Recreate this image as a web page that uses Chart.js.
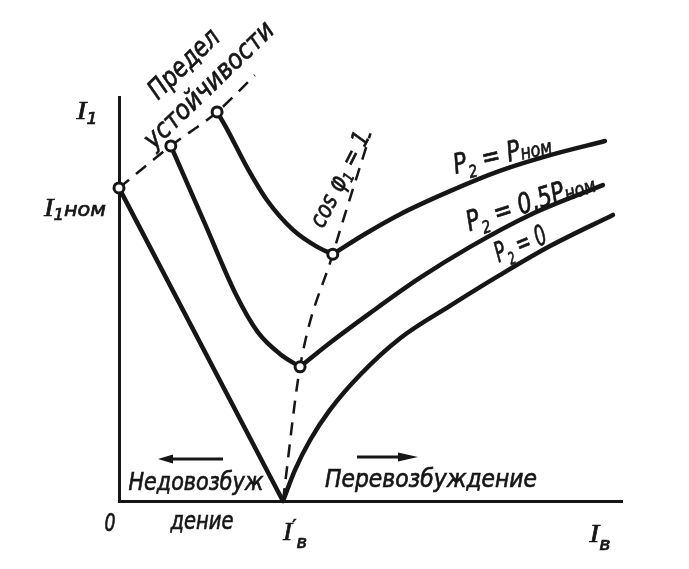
<!DOCTYPE html>
<html>
<head>
<meta charset="utf-8">
<script src="https://cdn.jsdelivr.net/npm/chart.js@4.4.0/dist/chart.umd.min.js"></script>
<style>
  html, body { margin: 0; padding: 0; background: #fff; }
  canvas { display: block; }
</style>
</head>
<body>
<canvas id="chart" width="689" height="569"></canvas>
<script>
// U-curves of a synchronous motor: stator current I1 vs field current Iв
// (arbitrary units, 0..10 on both axes)
var xMax = 10, yMax = 10;

// P2 = 0
var p0LeftX = [0, 3.26];
var p0LeftY = [7.75, 0];
var p0RightX = [3.26, 3.50, 3.80, 4.19, 4.79, 5.59, 6.58, 7.57, 8.57, 9.82];
var p0RightY = [0, 0.77, 1.51, 2.25, 3.12, 4.03, 4.83, 5.59, 6.31, 7.08];

// P2 = 0,5 Pном
var pHalfLeftX = [1.03, 1.71, 2.31, 2.76, 3.20, 3.60];
var pHalfLeftY = [8.79, 6.86, 5.15, 4.18, 3.64, 3.32];
var pHalfRightX = [3.60, 4.19, 4.99, 5.98, 6.98, 8.17, 9.62];
var pHalfRightY = [3.32, 3.91, 4.65, 5.52, 6.29, 7.08, 7.82];

// P2 = Pном
var pNomLeftX = [1.95, 2.15, 2.54, 2.94, 3.46, 3.94, 4.25];
var pNomLeftY = [9.63, 9.20, 8.27, 7.45, 6.71, 6.29, 6.11];
var pNomRightX = [4.25, 4.89, 5.59, 6.58, 7.57, 8.57, 9.66];
var pNomRightY = [6.11, 6.61, 7.10, 7.67, 8.17, 8.56, 8.91];

// stability limit (dashed)
var stabX = [0, 1.03, 1.95, 2.70];
var stabY = [7.75, 8.79, 9.63, 10.54];

// cos φ1 = 1 (dashed)
var cosX = [3.26, 3.60, 4.25, 5.00];
var cosY = [0, 3.32, 6.11, 9.10];

// open circles
var markX = [0, 1.03, 1.95, 3.60, 4.25];
var markY = [7.75, 8.79, 9.63, 3.32, 6.11];

var ink = '#161616';

function pts(xs, ys) {
  return xs.map(function (x, i) { return { x: x, y: ys[i] }; });
}

function curve(xs, ys) {
  return {
    data: pts(xs, ys),
    showLine: true,
    borderColor: ink,
    borderWidth: 4.5,
    pointRadius: 0,
    cubicInterpolationMode: 'monotone',
    borderCapStyle: 'round',
    clip: false
  };
}

function dashed(xs, ys) {
  var d = curve(xs, ys);
  d.borderWidth = 2.5;
  d.borderDash = [13, 9];
  d.borderCapStyle = 'butt';
  return d;
}

var serif = '"Liberation Serif"';
var sans = '"DejaVu Sans"';

// text labels: centre, angle (deg), target width, runs
var labels = [
  { x: 87, y: 110, a: 0, w: 21, runs: [['I', 'italic 26px ' + serif], ['1', 'italic 15px ' + sans, 5]] },
  { x: 75, y: 207, a: 0, w: 62, runs: [['I', 'italic 26px ' + serif], ['1', 'italic 15px ' + sans, 4], ['ном', 'italic 19px ' + sans, 0]] },
  { x: 110, y: 522, a: 0, w: 11, runs: [['0', 'italic 24px ' + sans]] },
  { x: 196, y: 481, a: 0, w: 135, runs: [['Недовозбуж', 'italic 25px ' + sans]] },
  { x: 202, y: 520, a: 0, w: 63, runs: [['дение', 'italic 25px ' + sans]] },
  { x: 431, y: 478, a: 0, w: 212, runs: [['Перевозбуждение', 'italic 25px ' + sans]] },
  { x: 295, y: 531, a: 0, w: 24, runs: [['I', 'italic 26px ' + serif], ['\u2032', '18px ' + sans, -8], ['в', 'italic 17px ' + sans, 8]] },
  { x: 600, y: 533, a: 0, w: 21, runs: [['I', 'italic 26px ' + serif], ['в', 'italic 17px ' + sans, 8]] },
  { x: 183, y: 63, a: -44, w: 88, runs: [['Предел', 'italic 27px ' + sans]] },
  { x: 208, y: 84, a: -44, w: 170, runs: [['устойчивости', 'italic 27px ' + sans]] },
  { x: 339, y: 179, a: -63, w: 104, runs: [['cos ', 'italic 24px ' + sans], ['φ', 'italic 26px ' + sans], ['1', 'italic 15px ' + sans, 4], [' = 1', 'italic 24px ' + sans]] },
  { x: 502, y: 153, a: -13, w: 100, runs: [['P', 'italic 28px ' + sans], ['2', 'italic 17px ' + sans, 7], [' = P', 'italic 28px ' + sans], ['ном', 'italic 20px ' + sans, 1]] },
  { x: 530, y: 201, a: -18, w: 134, runs: [['P', 'italic 28px ' + sans], ['2', 'italic 17px ' + sans, 7], [' = 0,5P', 'italic 28px ' + sans], ['ном', 'italic 20px ' + sans, 1]] },
  { x: 520, y: 243, a: -22, w: 54, runs: [['P', 'italic 28px ' + sans], ['2', 'italic 17px ' + sans, 7], [' = 0', 'italic 28px ' + sans]] }
];

function drawLabel(ctx, l) {
  ctx.save();
  ctx.translate(l.x, l.y);
  ctx.rotate(l.a * Math.PI / 180);
  var total = 0;
  l.runs.forEach(function (r) { ctx.font = r[1]; total += ctx.measureText(r[0]).width; });
  ctx.scale(l.w / total, 1);
  ctx.fillStyle = ink;
  ctx.strokeStyle = ink;
  ctx.lineWidth = 0.7;
  ctx.textBaseline = 'alphabetic';
  var size = parseFloat(l.runs[0][1].match(/(\d+)px/)[1]);
  var cx = -total / 2;
  l.runs.forEach(function (r) {
    ctx.font = r[1];
    var y = size * 0.36 + (r[2] || 0);
    ctx.fillText(r[0], cx, y);
    ctx.strokeText(r[0], cx, y);
    cx += ctx.measureText(r[0]).width;
  });
  ctx.restore();
}

function arrow(ctx, x1, x2, y, headLen) {
  var dir = x2 > x1 ? 1 : -1;
  ctx.save();
  ctx.strokeStyle = ink;
  ctx.fillStyle = ink;
  ctx.lineWidth = 3;
  ctx.beginPath();
  ctx.moveTo(x1, y);
  ctx.lineTo(x2 - dir * headLen * 0.8, y);
  ctx.stroke();
  ctx.beginPath();
  ctx.moveTo(x2, y);
  ctx.lineTo(x2 - dir * headLen, y - 4.5);
  ctx.lineTo(x2 - dir * headLen, y + 4.5);
  ctx.closePath();
  ctx.fill();
  ctx.restore();
}

var textPlugin = {
  id: 'texts',
  afterDraw: function (chart) {
    var ctx = chart.ctx;
    labels.forEach(function (l) { drawLabel(ctx, l); });
    arrow(ctx, 223, 158, 459, 15);
    arrow(ctx, 357, 418, 457, 20);
  }
};

new Chart(document.getElementById('chart').getContext('2d'), {
  type: 'scatter',
  data: {
    datasets: [
      {
        data: pts(markX, markY),
        pointRadius: 5,
        pointBorderWidth: 3,
        pointBackgroundColor: '#fff',
        pointBorderColor: ink,
        showLine: false,
        clip: false
      },
      curve(p0LeftX, p0LeftY),
      curve(p0RightX, p0RightY),
      curve(pHalfLeftX, pHalfLeftY),
      curve(pHalfRightX, pHalfRightY),
      curve(pNomLeftX, pNomLeftY),
      curve(pNomRightX, pNomRightY),
      dashed(stabX, stabY),
      dashed(cosX, cosY)
    ]
  },
  options: {
    responsive: false,
    animation: false,
    layout: { padding: { left: 119, top: 97, right: 67, bottom: 68 } },
    plugins: { legend: { display: false }, tooltip: { enabled: false } },
    scales: {
      x: {
        type: 'linear', min: 0, max: xMax,
        grid: { display: false, drawTicks: false },
        ticks: { display: false },
        border: { color: ink, width: 3 },
        afterFit: function (s) { s.height = 0; }
      },
      y: {
        type: 'linear', min: 0, max: yMax,
        grid: { display: false, drawTicks: false },
        ticks: { display: false },
        border: { color: ink, width: 3 },
        afterFit: function (s) { s.width = 0; }
      }
    }
  },
  plugins: [textPlugin]
});
</script>
</body>
</html>
